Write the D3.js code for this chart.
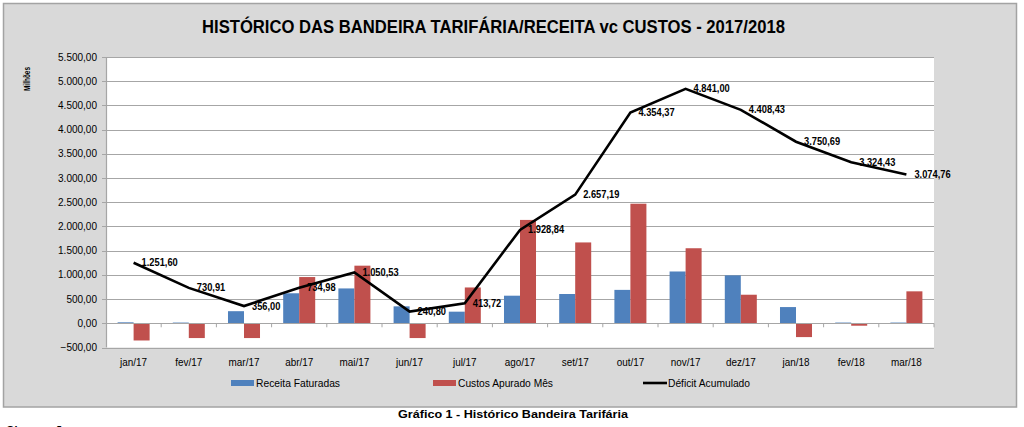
<!DOCTYPE html>
<html>
<head>
<meta charset="utf-8">
<script src="https://cdn.jsdelivr.net/npm/d3@7"></script>
<style>
	body { margin: 0; background: #fff; }
	svg text { font-family: "Liberation Sans", Arial, sans-serif; fill: #000; }
</style>
</head>
<body>
<div id="chart"></div>
<script>
// dados (milhões)
var meses = ['jan/17', 'fev/17', 'mar/17', 'abr/17', 'mai/17', 'jun/17', 'jul/17', 'ago/17',
		'set/17', 'out/17', 'nov/17', 'dez/17', 'jan/18', 'fev/18', 'mar/18']
var receita = [20, 15, 250, 620, 720, 350, 240, 570, 605, 690, 1070, 990, 335, 15, 15]
var custos = [-355, -305, -305, 955, 1190, -305, 740, 2135, 1670, 2470, 1550, 590, -285, -50, 660]
var deficit = [1251.60, 730.91, 356.00, 734.98, 1050.53, 240.80, 413.72, 1928.84,
		2657.19, 4354.37, 4841.00, 4408.43, 3750.69, 3324.43, 3074.76]
var yTicks = [-500, 0, 500, 1000, 1500, 2000, 2500, 3000, 3500, 4000, 4500, 5000, 5500]
var series = ['Receita Faturadas', 'Custos Apurado Mês', 'Déficit Acumulado']
var cores = ['#4F81BD', '#C0504D', '#000000']

var width = 1024,
	height = 427,
	plot = { left: 106, right: 934, top: 57, bottom: 347.5 }

var br = d3.formatLocale({ decimal: ',', thousands: '.', grouping: [3], currency: ['R$', ''] })
var fmt = br.format(',.2f')

// comprime o texto na horizontal (o original é mais estreito que o Arial)
function squeeze(sel, k) {
	sel.each(function () {
		var w = this.getComputedTextLength()
		d3.select(this).attr('textLength', w * k).attr('lengthAdjust', 'spacingAndGlyphs')
	})
}
function fit(sel, w) {
	sel.attr('textLength', w).attr('lengthAdjust', 'spacingAndGlyphs')
}

var svg = d3.select('#chart').append('svg')
	.attr('width', width)
	.attr('height', height)

// moldura cinza
svg.append('rect')
	.attr('x', 3.5).attr('y', 3.5)
	.attr('width', 1013).attr('height', 403.5)
	.attr('fill', '#d9d9d9')
	.attr('stroke', '#a3a3a3')
	.attr('stroke-width', 1.5)

svg.append('rect')
	.attr('x', plot.left).attr('y', plot.top)
	.attr('width', plot.right - plot.left).attr('height', plot.bottom - plot.top)
	.attr('fill', '#fff')

var x = d3.scaleBand()
	.domain(meses)
	.range([plot.left, plot.right])

var grupo = x.bandwidth() * 0.58
var x1 = d3.scaleBand()
	.domain([0, 1])
	.range([(x.bandwidth() - grupo) / 2, (x.bandwidth() + grupo) / 2])

var y = d3.scaleLinear()
	.domain([-500, 5500])
	.range([plot.bottom, plot.top])

// linhas de grade
svg.append('g').selectAll('line')
	.data(yTicks)
	.enter().append('line')
	.attr('x1', plot.left - 4).attr('x2', plot.right)
	.attr('y1', function (d) { return Math.round(y(d)) + 0.5 })
	.attr('y2', function (d) { return Math.round(y(d)) + 0.5 })
	.attr('stroke', '#a6a6a6')
	.attr('stroke-width', 1.2)

svg.append('line')
	.attr('x1', plot.left + 0.5).attr('x2', plot.left + 0.5)
	.attr('y1', plot.top).attr('y2', plot.bottom)
	.attr('stroke', '#a6a6a6')
	.attr('stroke-width', 1.2)

svg.append('g').selectAll('text')
	.data(yTicks)
	.enter().append('text')
	.attr('x', 97)
	.attr('y', function (d) { return y(d) })
	.attr('dy', '0.35em')
	.attr('text-anchor', 'end')
	.style('font-size', '10px')
	.text(function (d) { return fmt(d) })

svg.append('text')
	.attr('transform', 'translate(30,79) rotate(-90)')
	.attr('text-anchor', 'middle')
	.style('font-size', '9.5px')
	.style('font-weight', 'bold')
	.text('Milhões')
	.call(fit, 24)

// barras
var barras = svg.append('g').selectAll('g')
	.data(meses)
	.enter().append('g')
	.attr('transform', function (d) { return 'translate(' + x(d) + ',0)' })

barras.selectAll('rect')
	.data(function (d, i) { return [receita[i], custos[i]] })
	.enter().append('rect')
	.attr('x', function (d, j) { return x1(j) })
	.attr('width', x1.bandwidth())
	.attr('y', function (d) { return y(Math.max(0, d)) })
	.attr('height', function (d) { return Math.abs(y(d) - y(0)) })
	.attr('fill', function (d, j) { return cores[j] })

// eixo x em zero com marcas entre categorias
svg.append('line')
	.attr('x1', plot.left).attr('x2', plot.right)
	.attr('y1', Math.round(y(0)) + 0.5).attr('y2', Math.round(y(0)) + 0.5)
	.attr('stroke', '#a6a6a6')
	.attr('stroke-width', 1.2)

svg.append('g').selectAll('line')
	.data(meses)
	.enter().append('line')
	.attr('x1', function (d) { return x(d) + x.bandwidth() })
	.attr('x2', function (d) { return x(d) + x.bandwidth() })
	.attr('y1', y(0)).attr('y2', y(0) + 4)
	.attr('stroke', '#a6a6a6')

svg.append('g').selectAll('text')
	.data(meses)
	.enter().append('text')
	.attr('x', function (d) { return x(d) + x.bandwidth() / 2 })
	.attr('y', 366)
	.attr('text-anchor', 'middle')
	.style('font-size', '11px')
	.text(function (d) { return d })
	.call(squeeze, 0.9)

// linha do déficit acumulado
var linha = d3.line()
	.x(function (d, i) { return x(meses[i]) + x.bandwidth() / 2 })
	.y(function (d) { return y(d) })

svg.append('path')
	.datum(deficit)
	.attr('d', linha)
	.attr('fill', 'none')
	.attr('stroke', '#000')
	.attr('stroke-width', 2.6)
	.attr('stroke-linejoin', 'miter')

svg.append('g').selectAll('text')
	.data(deficit)
	.enter().append('text')
	.attr('x', function (d, i) { return x(meses[i]) + x.bandwidth() / 2 + 8 })
	.attr('y', function (d) { return y(d) })
	.attr('dy', '0.35em')
	.style('font-size', '10px')
	.style('font-weight', 'bold')
	.text(function (d) { return fmt(d) })
	.call(squeeze, 0.93)

// título
svg.append('text')
	.attr('x', 493.5)
	.attr('y', 33)
	.attr('text-anchor', 'middle')
	.style('font-size', '18px')
	.style('font-weight', 'bold')
	.text('HISTÓRICO DAS BANDEIRA TARIFÁRIA/RECEITA vc CUSTOS - 2017/2018')
	.call(fit, 583)

// legenda
var legX = [231, 433, 643],
	legW = [84, 95, 82]
var leg = svg.append('g').selectAll('g')
	.data(series)
	.enter().append('g')
	.attr('transform', function (d, i) { return 'translate(' + legX[i] + ',383)' })

leg.filter(function (d, i) { return i < 2 }).append('rect')
	.attr('x', 0).attr('y', -3)
	.attr('width', 23).attr('height', 6)
	.attr('fill', function (d, i) { return cores[i] })

leg.filter(function (d, i) { return i == 2 }).append('line')
	.attr('x1', 0).attr('x2', 24)
	.attr('stroke', '#000')
	.attr('stroke-width', 2.6)

leg.append('text')
	.attr('x', 25)
	.attr('y', 4)
	.style('font-size', '11px')
	.text(function (d) { return d })
	.each(function (d, i) { d3.select(this).call(fit, legW[i]) })

// legenda da figura, fora da moldura
svg.append('text')
	.attr('x', 513)
	.attr('y', 418)
	.attr('text-anchor', 'middle')
	.style('font-size', '11px')
	.style('font-weight', 'bold')
	.text('Gráfico 1 - Histórico Bandeira Tarifária')
	.call(fit, 230)

svg.append('text')
	.attr('x', 6)
	.attr('y', 434)
	.style('font-size', '11px')
	.style('font-weight', 'bold')
	.text('Observação:')
</script>
</body>
</html>
